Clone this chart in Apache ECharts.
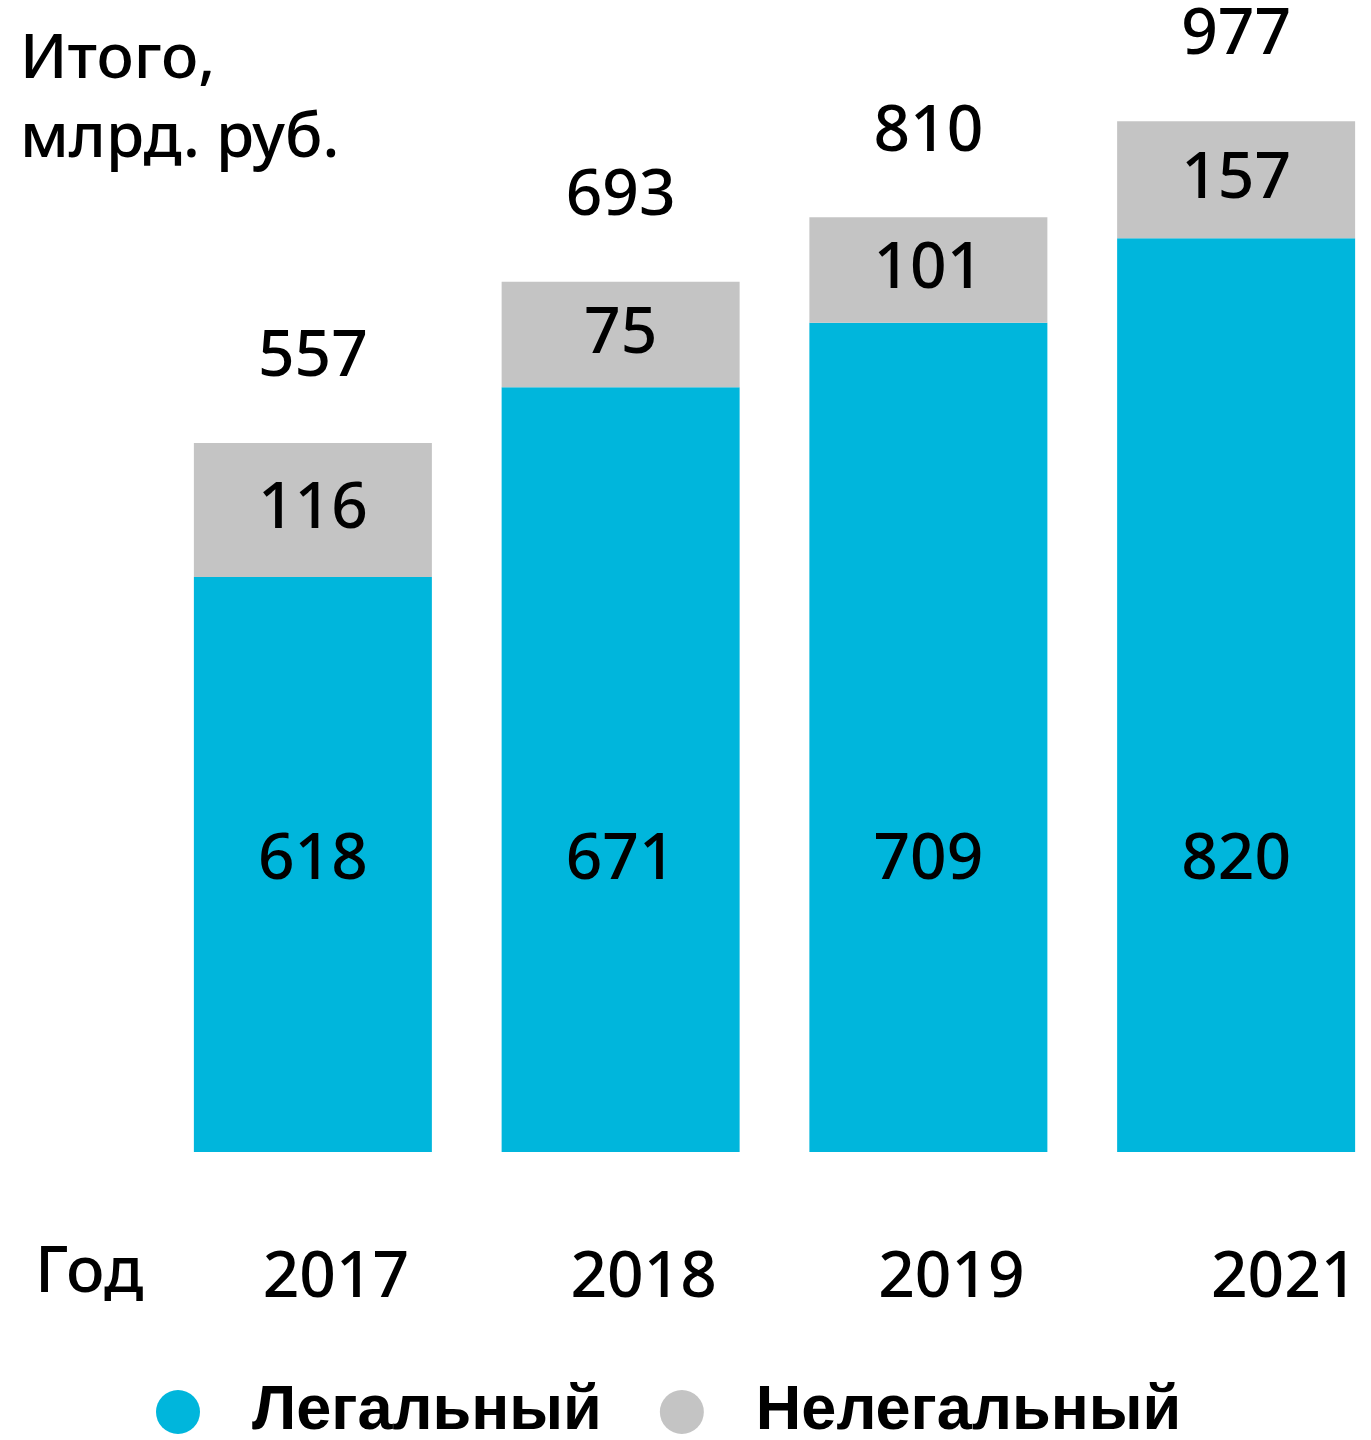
<!DOCTYPE html>
<html>
<head>
<meta charset="utf-8">
<script src="https://cdn.jsdelivr.net/npm/echarts@6/dist/echarts.min.js"></script>
<style>
  html, body { margin: 0; padding: 0; background: #fff; }
  #chart { width: 1371px; height: 1440px; }
</style>
</head>
<body>
<div id="chart"></div>
<script>
const years = ["2017", "2018", "2019", "2021"];

// bar lengths as drawn in the source picture (it is not to scale with its labels)
const legalBars = [545, 725, 786, 866];
const illegalBars = [127, 100, 100, 111];

// numbers printed on the chart
const legalLabels = [618, 671, 709, 820];
const illegalLabels = [116, 75, 101, 157];
const totalLabels = [557, 693, 810, 977];

const FONT = "Noto Sans";
const BLUE = "#00B6DC";
const GREY = "#C4C4C4";

const chart = echarts.init(document.getElementById("chart"));

const numStyle = {
  color: "#000",
  fontFamily: FONT,
  fontWeight: 500,
  fontSize: 64,
  lineHeight: 64,
};

const options = {
  animation: false,
  title: {
    text: "Итого,\nмлрд. руб.",
    left: 15,
    top: 16,
    textStyle: {
      color: "#000",
      fontFamily: FONT,
      fontWeight: 500,
      fontSize: 62,
      lineHeight: 79,
    },
  },
  legend: {
    data: ["Легальный", "Нелегальный"],
    left: 151,
    top: 1375,
    icon: "circle",
    itemWidth: 44,
    itemHeight: 44,
    itemGap: 58,
    textStyle: {
      color: "#000",
      fontFamily: "Liberation Sans",
      fontWeight: "bold",
      fontSize: 63,
      lineHeight: 64,
      padding: [0, 0, 0, 47],
    },
  },
  graphic: [
    {
      type: "text",
      left: 35,
      top: 1242,
      style: {
        text: "Год",
        fill: "#000",
        font: "500 64px 'Noto Sans'",
      },
    },
  ],
  grid: {
    left: 159,
    width: 1231,
    top: 97,
    bottom: 288,
    outerBoundsMode: "none",
  },
  xAxis: {
    type: "category",
    data: years,
    axisLine: { show: false },
    axisTick: { show: false },
    axisLabel: {
      margin: 95,
      formatter: (v, i) => (i === 3 ? "{far|" + v + "}" : "{near|" + v + "}"),
      rich: {
        near: { ...numStyle, padding: [0, 0, 0, 46] },
        far: { ...numStyle, padding: [0, 0, 0, 96] },
      },
    },
  },
  yAxis: {
    type: "value",
    min: 0,
    max: 1000,
    show: false,
    splitLine: { show: false },
  },
  series: [
    {
      name: "Легальный",
      type: "bar",
      stack: "total",
      barWidth: 238,
      itemStyle: { color: BLUE },
      data: legalBars,
      label: {
        show: true,
        position: "insideBottom",
        distance: 259,
        formatter: (p) => legalLabels[p.dataIndex],
        ...numStyle,
      },
    },
    {
      name: "Нелегальный",
      type: "bar",
      stack: "total",
      barWidth: 238,
      itemStyle: { color: GREY },
      data: illegalBars,
      label: {
        show: true,
        position: "inside",
        formatter: (p) => illegalLabels[p.dataIndex],
        ...numStyle,
      },
    },
    {
      name: "Итого",
      type: "bar",
      stack: "total",
      barWidth: 238,
      itemStyle: { color: "transparent" },
      data: years.map(() => 0),
      label: {
        show: true,
        position: "top",
        distance: 53,
        formatter: (p) => totalLabels[p.dataIndex],
        ...numStyle,
      },
    },
  ],
};

chart.setOption(options);
</script>
</body>
</html>
